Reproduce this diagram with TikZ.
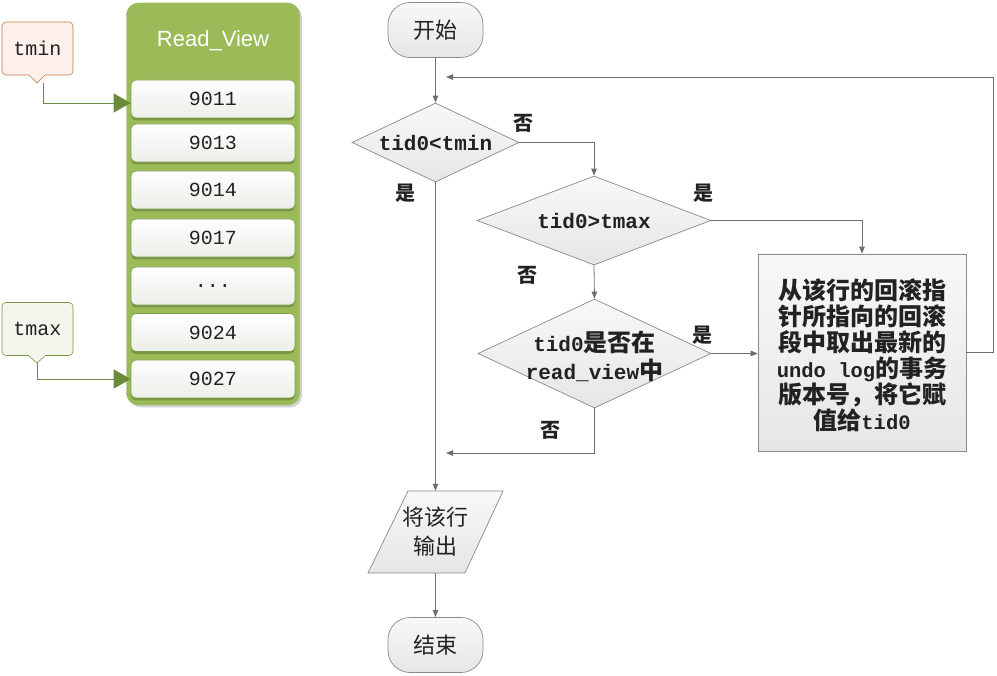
\documentclass[tikz,border=0pt]{standalone}
\usepackage{fontspec}
\setmainfont{Liberation Mono}
\newfontfamily\cjk{Noto Sans CJK SC}
\newfontfamily\arialf{Liberation Sans}
\usetikzlibrary{arrows.meta,shapes.geometric,shadows,calc}
\definecolor{rvgreen}{HTML}{9BBB59}
\definecolor{rvborder}{HTML}{8EAE50}
\definecolor{rvdark}{HTML}{728C40}
\definecolor{arrowgreen}{HTML}{6B8A3A}
\definecolor{itemborder}{HTML}{7F9D48}
\definecolor{itembot}{HTML}{ECEEE8}
\definecolor{textc}{HTML}{222222}
\definecolor{flowline}{HTML}{6E6E6E}
\definecolor{flowborder}{HTML}{8A8A8A}
\definecolor{flowtop}{HTML}{F8F8F8}
\definecolor{flowbot}{HTML}{E6E6E6}
\definecolor{minfill}{HTML}{FDF0EA}
\definecolor{minborder}{HTML}{C47A40}
\definecolor{maxfill}{HTML}{F3F6EC}
\definecolor{maxborder}{HTML}{7A9440}
\newcommand{\Zb}[1]{{\cjk\fontsize{24}{26}\selectfont #1}}
\newcommand{\Zd}[1]{{\cjk\fontsize{24}{28}\selectfont #1}}
\begin{document}
\begin{tikzpicture}[x=1pt,y=-1pt,
  rvitem/.style={draw=itemborder, line width=0.6pt, rounded corners=5pt,
    top color=white, bottom color=itembot, minimum width=164pt,
    minimum height=38pt, inner sep=0pt, text=textc,
    font=\fontsize{20}{22}\selectfont,
    drop shadow={shadow xshift=0pt,shadow yshift=-2.5pt,fill=rvdark,opacity=0.8}},
  callout/.style={rounded corners=4pt, line width=0.6pt, minimum width=71pt,
    minimum height=53pt, inner sep=0pt, text=textc,
    font=\fontsize{20}{22}\selectfont},
  greenarrow/.style={draw=arrowgreen, line width=0.9pt,
    -{Triangle[length=17pt,width=19pt,fill=arrowgreen]}},
  flowshape/.style={draw=flowborder, line width=0.7pt, top color=flowtop,
    bottom color=flowbot, inner sep=0pt},
  term/.style={flowshape, rounded corners=22pt, minimum width=95pt,
    minimum height=55pt, text=textc, font=\cjk\fontsize{22}{26}\selectfont},
  dia/.style={flowshape, diamond},
  dtext/.style={text=textc, align=center, inner sep=0pt,
    font=\bfseries\fontsize{21}{28}\selectfont},
  lab/.style={text=textc, inner sep=0pt, font=\cjk\bfseries\fontsize{20}{24}\selectfont},
  fl/.style={draw=flowline, line width=0.8pt,
    -{Triangle[length=7pt,width=5.5pt,fill=flowline]}}
]
\useasboundingbox (0,0) rectangle (997,676);

% ---------- Read_View container ----------
\node[draw=rvborder, fill=rvgreen, rounded corners=12pt, minimum width=173pt,
  minimum height=402pt, inner sep=0pt,
  drop shadow={shadow xshift=2.5pt,shadow yshift=-2.5pt,fill=black,opacity=0.18}]
  (rv) at (213,204) {};
\node[text=white, font=\arialf\fontsize{22}{26}\selectfont] (rvtitle) at (213,41) {Read\_View};
\node[rvitem] (i1) at (213,99) {9011};
\node[rvitem] (i2) at (213,143) {9013};
\node[rvitem] (i3) at (213,190) {9014};
\node[rvitem] (i4) at (213,238) {9017};
\node[rvitem] (i5) at (213,286) {...};
\node[rvitem] (i6) at (213,332.5) {9024};
\node[rvitem] (i7) at (213,379) {9027};

% ---------- callouts ----------
\node[callout, draw=minborder, fill=minfill] (tmin) at (37.5,48.5) {tmin};
\fill[minfill] (29,73) -- (45,73) -- (45,75) -- (37,83) -- (29,75) -- cycle;
\draw[minborder, line width=0.6pt] (29,75) -- (37,83) -- (45,75);
\node[callout, draw=maxborder, fill=maxfill] (tmax) at (37.5,329) {tmax};
\fill[maxfill] (29,354) -- (45,354) -- (45,356) -- (37,363) -- (29,356) -- cycle;
\draw[maxborder, line width=0.6pt] (29,356) -- (37,363) -- (45,356);
\coordinate (tminp) at (43,83);
\coordinate (tmaxp) at (37,363);
\draw[greenarrow] (tminp) |- ($(i1.west)+(0,4)$);
\draw[greenarrow] (tmaxp) |- (i7.west);

% ---------- flowchart ----------
\node[term] (start) at (435.5,30) {开始};
\node[dia, minimum width=167pt, minimum height=79pt] (d1) at (435.5,142.5) {};
\node[dtext] (t1) at (d1) {tid0<tmin};
\node[dia, minimum width=234pt, minimum height=89pt] (d2) at (594,220.5) {};
\node[dtext] (t2) at (d2) {tid0>tmax};
\node[dia, minimum width=233pt, minimum height=109pt] (d3) at (594.5,353.5) {};
\node[dtext] (t3) at (594.5,356) {tid0\Zd{是否在}\\read\_view\Zd{中}};
\node[flowshape, minimum width=208pt, minimum height=197pt] (act) at (862,352.5) {};
\node[text=textc, align=center, inner sep=0pt,
  font=\bfseries\fontsize{20.5}{26}\selectfont] (acttext) at (862,355)
  {\Zb{从该行的回滚指}\\\Zb{针所指向的回滚}\\\Zb{段中取出最新的}\\undo log\Zb{的事务}\\\Zb{版本号，将它赋}\\\Zb{值给}tid0};
\shade[top color=flowtop, bottom color=flowbot, draw=flowborder, line width=0.7pt]
  (408,491) -- (503,491) -- (465,573) -- (368,573) -- cycle;
\node[text=textc, align=center, inner sep=0pt, minimum height=82pt,
  font=\cjk\fontsize{22}{29}\selectfont] (out) at (435.5,532) {将该行\\输出};
\node[term] (end) at (435.5,645) {结束};

\coordinate (loopend) at (446,77);
\coordinate (noend) at (446,453);
\draw[fl] (start) -- (d1);
\draw[fl] (d1.east) -| (d2.north);
\draw[fl] (d2.east) -| (act.north);
\draw[fl] (d2.south) -- (d3.north);
\draw[fl] (d3.east) -- (d3.east -| act.west);
\draw[fl] (d1.south) -- (out.north);
\draw[fl] (out.south) -- (end.north);
\draw[fl] (act.east) -- ++(27,0) |- (loopend);
\draw[fl] (d3.south) |- (noend);

\node[lab] (l1) at (523,123) {否};
\node[lab] (l2) at (405,193) {是};
\node[lab] (l3) at (703,193) {是};
\node[lab] (l4) at (527,275) {否};
\node[lab] (l5) at (702,335) {是};
\node[lab] (l6) at (550,430) {否};
\end{tikzpicture}
\end{document}
